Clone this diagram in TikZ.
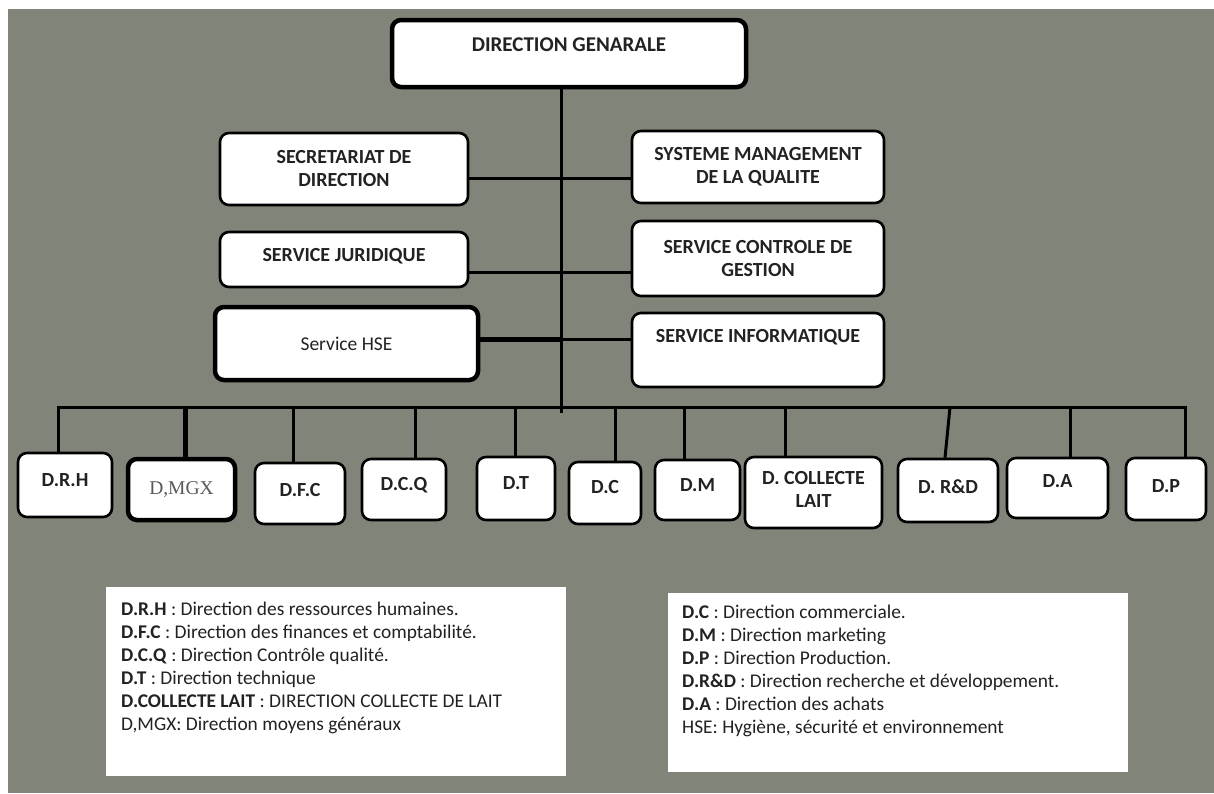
\documentclass[tikz,border=0pt]{standalone}
\usepackage{fontspec}
\setmainfont{Carlito}
\newfontfamily\timesfont{Liberation Serif}
\usepackage{xcolor}

\definecolor{wallgray}{RGB}{128,132,121}
\definecolor{inkgray}{RGB}{34,34,34}

\tikzset{
  box/.style={draw=black, line width=2.6pt, fill=white, rounded corners=9pt, inner sep=0pt,
    align=center, text=inkgray, font=\bfseries\fontsize{20}{23}\selectfont},
  heavybox/.style={box, line width=4.5pt},
  lowbox/.style={box, text depth=10pt},
  link/.style={draw=black, line width=3pt},
  heavylink/.style={draw=black, line width=5pt},
  legendbox/.style={fill=white, inner sep=0pt, anchor=north west},
  legend/.style={anchor=north west, align=left, inner sep=0pt, text=inkgray,
    font=\fontsize{19.4}{23}\selectfont},
}

\begin{document}
\begin{tikzpicture}[x=1pt, y=-1pt]
% background
\fill[white] (0,0) rectangle (1214,793);
\useasboundingbox (0,0) rectangle (1214,793);
\fill[wallgray] (8,9) rectangle (1214,793);

% direction and the services beside it
\node[heavybox, minimum width=354pt, minimum height=67pt, text depth=17pt,
  font=\bfseries\fontsize{21}{25}\selectfont] (dg) at (569,53.5) {DIRECTION GENARALE};
\node[box, minimum width=248pt, minimum height=72pt] (sec) at (344,169) {SECRETARIAT DE\\DIRECTION};
\node[box, minimum width=252pt, minimum height=72pt] (smq) at (758,167) {SYSTEME MANAGEMENT\\DE LA QUALITE};
\node[box, minimum width=248pt, minimum height=55pt, text depth=9pt] (sj) at (344,259.5) {SERVICE JURIDIQUE};
\node[box, minimum width=252pt, minimum height=75pt] (scg) at (758,258.5) {SERVICE CONTROLE DE\\GESTION};
\node[heavybox, minimum width=263pt, minimum height=73pt,
  font=\fontsize{19.5}{23}\selectfont] (hse) at (346.5,343.5) {Service HSE};
\node[box, minimum width=252pt, minimum height=74pt, text depth=28pt] (si) at (758,350) {SERVICE INFORMATIQUE};

% the directions in the bottom row
\foreach \n/\cx/\cy/\w/\h/\d/\t in {
    drh/65/485/94/64/10/{D.R.H},
    dfc/300/493.5/90/61/7/{D.F.C},
    dcq/404/489.5/84/61/11/{D.C.Q},
    dt/516/488.5/78/63/11/{D.T},
    dc/605/493/72/62/12/{D.C},
    dm/697.5/490/85/60/10/{D.M},
    dcl/813.5/492.5/137/71/7/{D. COLLECTE\\LAIT},
    drd/948/490.5/100/63/7/{D. R\&D},
    da/1057.5/488/101/60/14/{D.A},
    dp/1166/489/80/62/6/{D.P}}
  \node[lowbox, minimum width=\w pt, minimum height=\h pt, text depth=\d pt] (\n) at (\cx,\cy) {\t};
\node[heavybox, minimum width=107pt, minimum height=61pt, text=black!65,
  font=\timesfont\fontsize{19.5}{23}\selectfont] (mgx) at (181.5,489.5) {D,MGX};

% points on the trunk
\coordinate (j1) at (561,178);
\coordinate (j2) at (561,272);
\coordinate (j3) at (561,339);
\coordinate (bus) at (561,407);
\coordinate (tend) at (561,413);
\coordinate (busr) at ([xshift=19pt]dp.north |- bus);

% trunk and side links
\draw[link] (dg.south -| tend) -- (tend);
\draw[link] (sec.east |- j1) -- (smq.west |- j1);
\draw[link] (sj.east |- j2) -- (scg.west |- j2);
\draw[heavylink] (hse.east |- j3) -- (j3);
\draw[link] (j3) -- (si.west |- j3);

% bus and drops
\draw[link] ([xshift=-7pt]drh.north) |- (busr) -- ([xshift=19pt]dp.north);
\foreach \n/\dx in {dfc/-7, dcq/11, dt/-1, dc/10, dm/-13.5, dcl/-28.5, da/12.5}
  \draw[link] ([xshift=\dx pt]\n.north |- bus) -- ([xshift=\dx pt]\n.north);
\draw[link] ([xshift=2pt]drd.north |- bus) -- ([xshift=-3pt]drd.north);
\draw[heavylink] ([xshift=3.5pt]mgx.north |- bus) -- ([xshift=3.5pt]mgx.north);

% legends
\node[legendbox, minimum width=460pt, minimum height=189pt] (legl) at (106,587) {};
\node[legendbox, minimum width=460pt, minimum height=179pt] (legr) at (668,593) {};
\node[legend] (legl-t) at (121,602) {%
  \textbf{D.R.H} : Direction des ressources humaines.\\
  \textbf{D.F.C} : Direction des finances et comptabilité.\\
  \textbf{D.C.Q} : Direction Contrôle qualité.\\
  \textbf{D.T} : Direction technique\\
  \textbf{D.COLLECTE LAIT} : DIRECTION COLLECTE DE LAIT\\
  D,MGX: Direction moyens généraux};
\node[legend] (legr-t) at (682,605) {%
  \textbf{D.C} : Direction commerciale.\\
  \textbf{D.M} : Direction marketing\\
  \textbf{D.P} : Direction Production.\\
  \textbf{D.R\&D} : Direction recherche et développement.\\
  \textbf{D.A} : Direction des achats\\
  HSE: Hygiène, sécurité et environnement};
\end{tikzpicture}
\end{document}
